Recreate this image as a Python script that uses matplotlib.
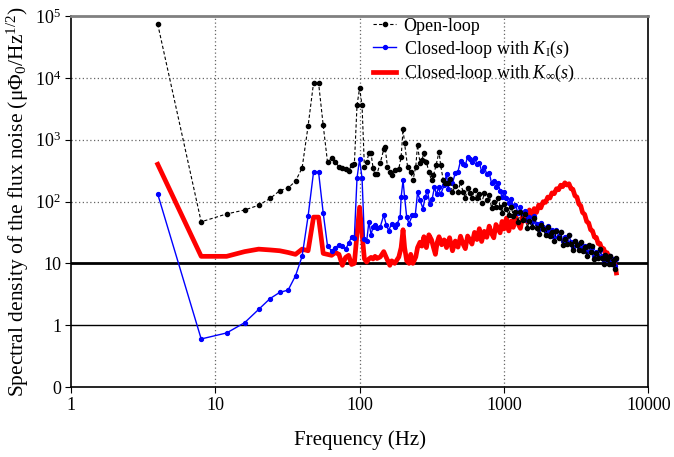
"""Flux noise spectra: open-loop vs. two closed-loop controllers."""

import matplotlib
matplotlib.use("Agg")
import matplotlib.pyplot as plt
from matplotlib.ticker import FixedLocator, FixedFormatter

plt.rcParams["font.family"] = ["Liberation Serif", "DejaVu Serif"]
plt.rcParams["mathtext.fontset"] = "custom"
plt.rcParams["mathtext.rm"] = "Liberation Serif"
plt.rcParams["mathtext.it"] = "Liberation Serif:italic"

# ---- data (Hz, uPhi0/Hz^1/2) ----
# low-frequency part, one point per bin
OPEN_F = [4, 8, 12, 16, 20, 24, 28, 32, 36, 40, 44, 48, 52, 56, 60, 64, 68, 72, 76,
          80, 84, 88, 92, 96, 100, 104, 108, 112, 116, 120, 124, 128, 132, 139, 147,
          150, 156, 162, 167, 175, 187, 194, 200, 205, 215, 226, 234, 245, 252, 262,
          270, 279, 290, 302, 315, 325, 339, 355, 364, 380, 392, 408]
OPEN_V = [74000, 47, 63, 73, 87, 112, 150, 166, 213, 350, 1660, 8300, 8300, 1700, 430,
          500, 430, 365, 355, 330, 310, 390, 400, 3600, 6800, 3600, 365, 440, 600, 600,
          350, 275, 280, 420, 700, 770, 365, 300, 265, 320, 340, 530, 1470, 870, 365,
          300, 220, 365, 820, 420, 470, 600, 440, 300, 220, 265, 390, 640, 390, 220,
          200, 200]

CL1_F = [4, 8, 12, 16, 20, 24, 28, 32, 36, 40, 44, 48, 52, 56, 60, 64, 68, 72, 76,
         80, 84, 88, 92, 96, 100, 104, 108, 112, 116, 120, 124, 128, 132, 139, 147,
         153, 159, 167, 175, 182, 191, 194, 200, 205, 212, 220, 232, 243, 252, 262,
         275, 284, 295, 306, 318, 330, 341, 352, 364, 385, 400, 410]
CL1_V = [132, 0.6, 0.75, 1.1, 1.8, 2.7, 3.4, 3.7, 6.3, 13, 58, 300, 300, 65, 19, 16,
         18, 20, 19, 17, 21, 27, 26, 240, 480, 240, 25, 23, 47, 29, 39, 42, 37, 39, 60,
         42, 34, 44, 39, 44, 56, 118, 220, 118, 56, 44, 60, 60, 140, 105, 77, 118, 150,
         92, 110, 170, 130, 170, 130, 185, 280, 160]

CLINF_F = [4, 8, 12, 16, 20, 24, 28, 32, 36, 40, 44, 48, 52, 56, 60, 64, 68, 72, 76,
           80, 84, 88, 92, 96, 100, 104, 108, 112, 116, 120, 124, 128, 132, 139, 147,
           153, 162, 167, 175, 187, 194, 200, 205, 212, 220, 226, 234, 245, 252, 262,
           270, 279, 290, 302, 315, 325, 335, 345, 355, 370, 385, 400, 410]
CLINF_V = [400, 13, 13, 15.5, 17, 16.5, 16, 15, 14, 17, 16, 56, 56, 14.5, 14, 13.5, 15,
           14, 9.3, 12.5, 13.5, 9.6, 10, 30, 81, 30, 11.8, 10.5, 11.8, 12.5, 11.8, 13,
           12, 12.7, 15.5, 12.5, 9.3, 11, 10, 12.7, 18, 35, 18, 11, 10, 14, 10, 12.7, 18,
           22, 19, 27, 18, 29, 24, 18, 14, 22, 27, 20, 24, 18, 22]

# high-frequency part (dense, noisy band) on a shared frequency list
HF_F = [420, 440, 460, 480, 500, 520, 540, 560, 580, 600, 625, 650, 675, 700, 730, 760,
        790, 820, 850, 880, 910, 940, 970, 1000, 1040, 1080, 1120, 1160, 1200, 1250,
        1300, 1350, 1400, 1450, 1500, 1560, 1620, 1680, 1740, 1800, 1870, 1940, 2010,
        2080, 2150, 2230, 2310, 2390, 2470, 2550, 2640, 2730, 2820, 2910, 3000, 3100,
        3200, 3300, 3400, 3500, 3620, 3740, 3860, 3980, 4100, 4230, 4360, 4490, 4620,
        4760, 4900, 5040, 5180, 5320, 5460, 5600, 5740, 5880, 6000]
OPEN_HF = [231, 142, 180, 144, 205, 144, 115, 163, 138, 114, 155, 112, 130, 93, 135,
           104, 129, 79, 100, 81, 116, 82, 65, 92, 76, 61, 83, 59, 68, 47, 68, 51, 64,
           38, 48, 39, 55, 38, 30, 42.5, 35.5, 29, 39, 28, 32.5, 23, 34, 26, 32.5, 20,
           25, 20.4, 29, 20.7, 16.4, 23.3, 19.6, 16.2, 22, 16, 18.6, 13.3, 19.5, 15,
           18.8, 11.6, 14.7, 12, 17.2, 12.2, 9.7, 13.8, 11.7, 9.7, 13.3, 9.7, 11.3, 8.2,
           12.2]
CL1_HF = [230, 200, 288, 304, 456, 407, 387, 528, 490, 432, 515, 404, 420, 310, 365,
          279, 293, 198, 211, 170, 202, 148, 119, 141, 116, 95, 110, 85, 88, 66, 81, 65,
          71, 50, 57, 47, 58, 44, 36.5, 45, 39, 33.3, 39.8, 32, 34.1, 26.7, 34.2, 28.2,
          31.7, 23, 26.3, 22.5, 28.3, 22.1, 18.7, 23.3, 20.5, 17.8, 21.5, 17.5, 18.9,
          15, 19.2, 15.9, 18, 13.2, 15.1, 13.1, 16.6, 13, 11, 13.9, 12.2, 10.7, 13,
          10.6, 11.6, 9.2, 11.9]
CLINF_HF = [26, 16, 23, 18.3, 27.5, 20.7, 17.3, 27.7, 24, 20.5, 31.7, 24.3, 36.4, 22.6,
            33, 26.4, 40, 30.4, 25.9, 42.5, 37, 31.2, 47.6, 36, 54, 33.5, 48.4, 38.3,
            57.5, 43.7, 36.8, 60.2, 54, 46.7, 73.2, 57.6, 77, 66.6, 88, 79, 99.6, 97,
            118, 114, 138, 134, 161, 155, 184, 174, 201, 185, 194, 161, 158, 124, 118,
            91, 86, 66.5, 62, 47.5, 45, 35, 33.6, 26.6, 26.3, 20.9, 21, 17.1, 17.3,
            14.4, 14.9, 12.6, 13.1, 11.2, 11, 9.5, 7]

Y_TICKS = [0.1, 1, 10, 1e2, 1e3, 1e4, 1e5]
Y_LABELS = ["0", "1", "10", "$10^2$", "$10^3$", "$10^4$", "$10^5$"]
X_TICKS = [1, 10, 100, 1000, 10000]
X_LABELS = ["1", "10", "100", "1000", "10000"]

fig = plt.figure(figsize=(6.74, 4.57), dpi=100)
ax = fig.add_axes([0.105, 0.153, 0.857, 0.812])

ax.set_xscale("log")
ax.set_yscale("log")
ax.set_xlim(1, 10000)
ax.set_ylim(0.1, 1e5)

# reference lines
for y in (1e2, 1e3, 1e4):
    ax.axhline(y, color="0.4", linestyle=(0, (1, 2)), linewidth=0.9, zorder=1)
for x in (10, 100, 1000):
    ax.axvline(x, color="0.4", linestyle=(0, (1, 2)), linewidth=0.9, zorder=1)
ax.axhline(10, color="black", linewidth=2, zorder=1)
ax.axhline(1, color="black", linewidth=1, zorder=1)

ax.plot(CLINF_F + HF_F, CLINF_V + CLINF_HF, color="red", linewidth=3.4,
        solid_joinstyle="round", label=r"Closed-loop with $K_{\infty}(s)$", zorder=3)
ax.plot(CL1_F + HF_F, CL1_V + CL1_HF, color="blue", linewidth=1, marker="o",
        markersize=2.8, label=r"Closed-loop with $K_{\mathrm{I}}(s)$", zorder=4)
ax.plot(OPEN_F + HF_F, OPEN_V + OPEN_HF, color="black", linewidth=0.8,
        linestyle=(0, (3, 2)), marker="o", markersize=3.0, label="Open-loop", zorder=5)

ax.xaxis.set_major_locator(FixedLocator(X_TICKS))
ax.xaxis.set_major_formatter(FixedFormatter(X_LABELS))
ax.xaxis.set_minor_locator(FixedLocator([]))
ax.yaxis.set_major_locator(FixedLocator(Y_TICKS))
ax.yaxis.set_major_formatter(FixedFormatter(Y_LABELS))
ax.yaxis.set_minor_locator(FixedLocator([]))
ax.tick_params(axis="both", direction="out", length=4, width=0.8, labelsize=13, pad=3)

ax.spines["top"].set_color("0.5")
ax.spines["top"].set_linewidth(2)
for s in ("left", "bottom", "right"):
    ax.spines[s].set_linewidth(1.2)

ax.set_xlabel("Frequency (Hz)", fontsize=15, labelpad=12)
ax.set_ylabel(r"Spectral density of the flux noise (μ$\mathit{\Phi}_0$/Hz$^{1/2}$)",
              fontsize=15.5)
ax.yaxis.set_label_coords(-0.068, 0.5)

handles, labels = ax.get_legend_handles_labels()
ax.legend(handles[::-1], labels[::-1], loc="upper left", bbox_to_anchor=(0.52, 1.0),
          frameon=False, fontsize=13, handlelength=1.3, handletextpad=0.4,
          labelspacing=0.2, borderaxespad=0.0, borderpad=0.1)

fig.savefig("out.png", dpi=100)
